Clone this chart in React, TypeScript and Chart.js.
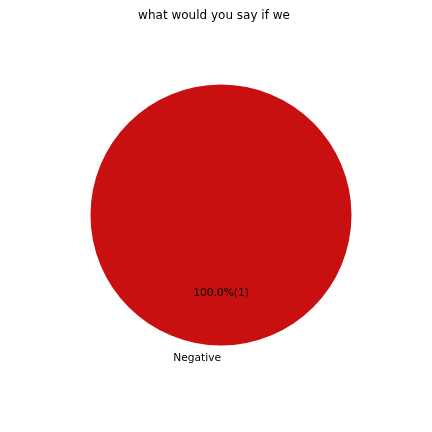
import React, { useEffect, useRef } from "react";
import { Chart, registerables } from "chart.js";

Chart.register(...registerables);

const TITLE = "what would you say if we";
const CATEGORIES = ["Negative"];
const VALUES = [1];
const COLORS = ["#C81010"];

const FONT = "'DejaVu Sans', sans-serif";

const piePlugin = {
  id: "mplPieText",
  afterDatasetsDraw(chart: any) {
    const ctx = chart.ctx;
    const meta = chart.getDatasetMeta(0);
    const total = VALUES.reduce((a, b) => a + b, 0);
    ctx.save();
    ctx.fillStyle = "#000";
    meta.data.forEach((arc: any, i: number) => {
      const { x, y, outerRadius, startAngle, endAngle } = arc.getProps(
        ["x", "y", "outerRadius", "startAngle", "endAngle"],
        true
      );
      const mid = (startAngle + endAngle) / 2;
      const c = Math.cos(mid);
      const s = Math.sin(mid);
      // autopct
      ctx.font = `10.67px ${FONT}`;
      ctx.textAlign = "center";
      ctx.textBaseline = "middle";
      const pct = ((VALUES[i] / total) * 100).toFixed(1) + "%(" + VALUES[i] + ")";
      ctx.fillText(pct, x + 0.6 * outerRadius * c, y + 0.6 * outerRadius * s);
      // label
      ctx.textAlign = c < 1e-9 ? "right" : "left";
      ctx.fillText(CATEGORIES[i], x + 1.1 * outerRadius * c, y + 1.1 * outerRadius * s);
    });
    ctx.font = `12px ${FONT}`;
    ctx.textAlign = "center";
    ctx.textBaseline = "alphabetic";
    ctx.fillText(TITLE, 214, 19);
    ctx.restore();
  },
};

export default function App() {
  const ref = useRef<HTMLCanvasElement>(null);
  useEffect(() => {
    if (!ref.current) return;
    const chart = new Chart(ref.current, {
      type: "pie",
      data: {
        labels: CATEGORIES,
        datasets: [
          {
            data: VALUES,
            backgroundColor: COLORS,
            borderWidth: 0,
          },
        ],
      },
      options: {
        animation: false,
        responsive: false,
        maintainAspectRatio: false,
        layout: { padding: { left: 90.5, right: 80.5, top: 84.5, bottom: 86.5 } },
        plugins: {
          legend: { display: false },
          title: { display: false },
          tooltip: { enabled: false },
        },
      },
      plugins: [piePlugin],
    });
    return () => chart.destroy();
  }, []);
  return (
    <div style={{ position: "fixed", left: 0, top: 0, width: 432, height: 432, background: "#fff" }}>
      <canvas ref={ref} width={432} height={432} style={{ width: 432, height: 432 }} />
    </div>
  );
}
